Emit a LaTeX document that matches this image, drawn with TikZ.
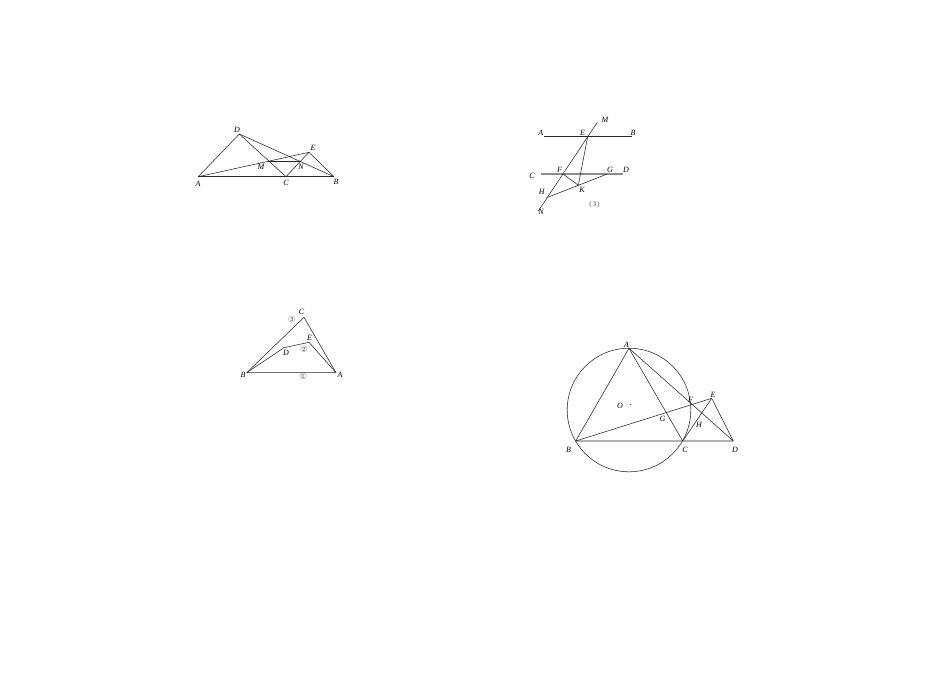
\documentclass[tikz,border=0pt]{standalone}
\usepackage{fontspec}
\setmainfont{Liberation Serif}
\newfontfamily\symfont{DejaVu Sans}
\begin{document}
\begin{tikzpicture}[x=1pt,y=-1pt,
  seg/.style={line width=0.55pt,black!85},
  lbl/.style={inner sep=0pt,font=\fontsize{8}{9}\selectfont\itshape},
  num/.style={inner sep=0pt,font=\fontsize{8.5}{9}\selectfont\symfont,black!55},
  pt/.style={coordinate}]
\useasboundingbox (0,0) rectangle (950,672);
% ---------- Figure 1 ----------
\begin{scope}
\node[pt] (A1) at (198.3,176.7) {};
\node[pt] (D1) at (239.3,134) {};
\node[pt] (E1) at (309,152.3) {};
\node[pt] (B1) at (334,176.7) {};
\node[pt] (C1) at (286,176.7) {};
\node[pt] (M1) at (268.4,161) {};
\node[pt] (N1) at (300.5,161) {};
\draw[seg] (A1) -- (B1);
\draw[seg] (A1) -- (D1) -- (C1) -- (E1) -- (B1);
\draw[seg] (D1) -- (B1);
\draw[seg] (A1) -- (E1);
\draw[seg] (M1) -- (N1);
\node[lbl] (lA1) at (198,184) {A};
\node[lbl] (lD1) at (237,129.5) {D};
\node[lbl] (lE1) at (313,148) {E};
\node[lbl] (lB1) at (336,182) {B};
\node[lbl] (lC1) at (286,183) {C};
\node[lbl] (lM1) at (261,166.5) {M};
\node[lbl] (lN1) at (301,166.5) {N};
\end{scope}
% ---------- Figure 2 ----------
\begin{scope}
\node[pt] (M2) at (597.3,122.3) {};
\node[pt] (N2) at (538.3,211) {};
\node[pt] (A2) at (544,136.7) {};
\node[pt] (B2) at (631.7,136.7) {};
\node[pt] (E2) at (587.7,136.7) {};
\node[pt] (C2) at (540.7,174) {};
\node[pt] (D2) at (623.3,174) {};
\node[pt] (F2) at (562.9,174) {};
\node[pt] (G2) at (607.3,174) {};
\node[pt] (K2) at (578.3,185.2) {};
\node[pt] (H2) at (546.6,197.7) {};
\draw[seg] (A2) -- (B2);
\draw[line width=1.1pt,black!45] (C2) -- (D2);
\draw[seg] (M2) -- (N2);
\draw[seg] (E2) -- (K2);
\draw[seg] (F2) -- (K2);
\draw[seg] (H2) -- (G2);
\node[lbl] (lM2) at (605,120) {M};
\node[lbl] (lA2) at (540.7,132.5) {A};
\node[lbl] (lE2) at (582.5,132.5) {E};
\node[lbl] (lB2) at (633,132.5) {B};
\node[lbl] (lC2) at (532,176) {C};
\node[lbl] (lF2) at (559.5,170) {F};
\node[lbl] (lG2) at (610,169.5) {G};
\node[lbl] (lD2) at (626,170) {D};
\node[lbl] (lK2) at (582,189.5) {K};
\node[lbl] (lH2) at (541.7,192) {H};
\node[lbl] (lN2) at (541,212) {N};
\node[inner sep=0pt,font=\fontsize{7}{8}\selectfont,black!70] (cap2) at (594.5,204.5) {(\,3\,)};
\end{scope}
% ---------- Figure 3 ----------
\begin{scope}
\node[pt] (C3) at (304,317.3) {};
\node[pt] (B3) at (246.7,372.7) {};
\node[pt] (A3) at (336,372.7) {};
\node[pt] (E3) at (309,342.3) {};
\node[pt] (D3) at (284,347.7) {};
\draw[seg] (B3) -- (C3) -- (A3) -- (B3);
\draw[seg] (B3) -- (D3) -- (E3) -- (A3);
\node[lbl] (lC3) at (301.5,312) {C};
\node[lbl] (lB3) at (243,375) {B};
\node[lbl] (lA3) at (340,375) {A};
\node[lbl] (lE3) at (309.5,337.5) {E};
\node[lbl] (lD3) at (286,352.5) {D};
\node[num] (n3) at (291.7,319) {③};
\node[num] (n2) at (304,349.5) {②};
\node[num] (n1) at (303.3,376.5) {①};
\end{scope}
% ---------- Figure 4 ----------
\begin{scope}
\node[pt] (O4) at (629,410) {};
\node[pt] (A4) at (629,348.3) {};
\node[pt] (B4) at (575.7,441) {};
\node[pt] (C4) at (682.7,441) {};
\node[pt] (D4) at (733.3,441) {};
\node[pt] (E4) at (711.7,398.3) {};
\node[pt] (F4) at (690,403.3) {};
\node[pt] (G4) at (666,412.3) {};
\draw[seg] (O4) circle[radius=61.8];
\draw[seg] (A4) -- (B4) -- (D4);
\draw[seg] (A4) -- (C4);
\draw[seg] (A4) -- (D4);
\draw[seg] (B4) -- (E4) -- (D4);
\draw[seg] (C4) -- (E4);
\fill[black!80] (630.7,404.5) circle[radius=0.7];
\node[lbl] (lA4) at (626.5,344.5) {A};
\node[lbl] (lO4) at (620,406) {O};
\node[lbl] (lB4) at (568.5,450) {B};
\node[lbl] (lC4) at (685,450) {C};
\node[lbl] (lD4) at (735,450) {D};
\node[lbl] (lE4) at (713,394.5) {E};
\node[lbl] (lF4) at (690.5,399.5) {F};
\node[lbl] (lG4) at (662.5,418.5) {G};
\node[lbl] (lH4) at (699,425) {H};
\end{scope}
\end{tikzpicture}
\end{document}
